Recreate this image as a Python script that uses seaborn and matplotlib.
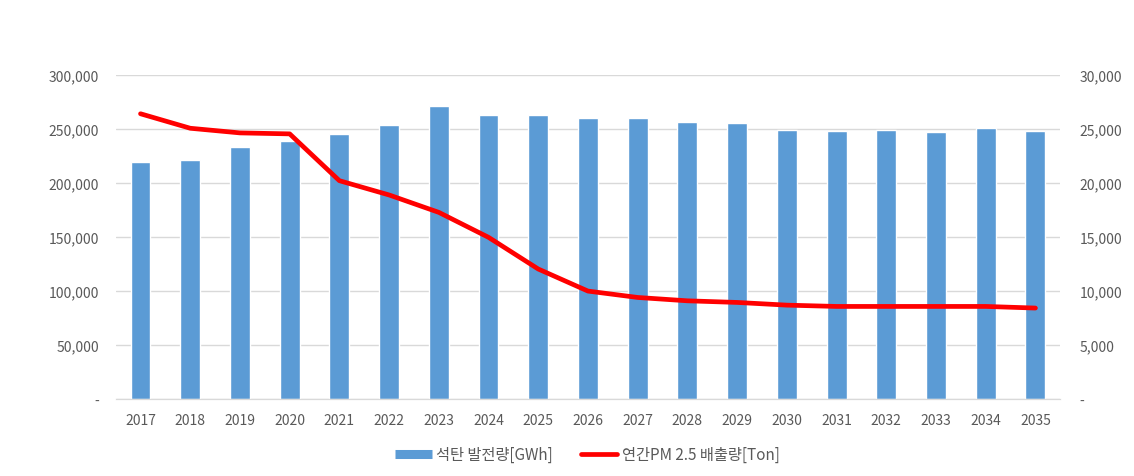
import pandas as pd
import matplotlib
matplotlib.use("Agg")
import matplotlib.pyplot as plt
import matplotlib.ticker as mticker
from matplotlib.lines import Line2D
import seaborn as sns

# --- Data ---
years = [str(y) for y in range(2017, 2036)]
coal_gwh = [219000, 221000, 233000, 239000, 245000, 254000, 271000, 262600,
            262600, 260000, 260000, 256800, 255600, 249400, 248500, 249400,
            247000, 251000, 248500]
pm25_ton = [26400, 25060, 24630, 24540, 20210, 18890, 17280, 14970, 12040,
            10000, 9410, 9100, 8950, 8700, 8580, 8580, 8580, 8580, 8430]

bar_label = "석탄 발전량[GWh]"
line_label = "연간PM 2.5 배출량[Ton]"

df = pd.DataFrame({"year": years, "coal": coal_gwh, "pm": pm25_ton})

# --- Style ---
sns.set_style("white")
plt.rcParams["font.family"] = ["Noto Sans CJK KR", "DejaVu Sans"]
text_color = "#595959"
grid_color = "#d9d9d9"
bar_color = "#5B9BD5"
line_color = "#FF0000"


def fmt(v, pos):
    return "-" if v == 0 else f"{int(v):,}"


fig = plt.figure(figsize=(11.34, 4.77), dpi=100)
ax = fig.add_axes([0.102, 0.161, 0.833, 0.68])

sns.barplot(data=df, x="year", y="coal", color=bar_color, width=0.4,
            saturation=1, ax=ax)
ax.set_ylim(0, 300000)
ax.set_yticks(range(0, 300001, 50000))
ax.yaxis.set_major_formatter(mticker.FuncFormatter(fmt))
ax.yaxis.grid(True, color=grid_color, linewidth=1)
ax.set_axisbelow(True)
ax.set_xlabel("")
ax.set_ylabel("")
ax.set_xlim(-0.5, len(years) - 0.5)

ax2 = ax.twinx()
sns.lineplot(x=list(range(len(years))), y=pm25_ton, color=line_color,
             linewidth=3.4, ax=ax2)
ax2.set_ylim(0, 30000)
ax2.set_yticks(range(0, 30001, 5000))
ax2.yaxis.set_major_formatter(mticker.FuncFormatter(fmt))
ax2.set_ylabel("")

for a in (ax, ax2):
    for side in ("top", "left", "right"):
        a.spines[side].set_visible(False)
    a.spines["bottom"].set_color(grid_color)
    a.tick_params(axis="both", length=0, colors=text_color, labelsize=10)
ax.tick_params(axis="y", pad=12)
ax2.tick_params(axis="y", pad=14)
ax.tick_params(axis="x", pad=10)

handles = [Line2D([0], [0], color=bar_color, linewidth=6.5,
                  solid_capstyle="butt"),
           Line2D([0], [0], color=line_color, linewidth=3.4,
                  solid_capstyle="round")]
fig.legend(handles, [bar_label, line_label], loc="center",
           bbox_to_anchor=(0.518, 0.045), ncol=2, frameon=False,
           fontsize=11, labelcolor=text_color, handlelength=2.4,
           columnspacing=1.8, handletextpad=0.3)

fig.savefig("out.png", dpi=100)
